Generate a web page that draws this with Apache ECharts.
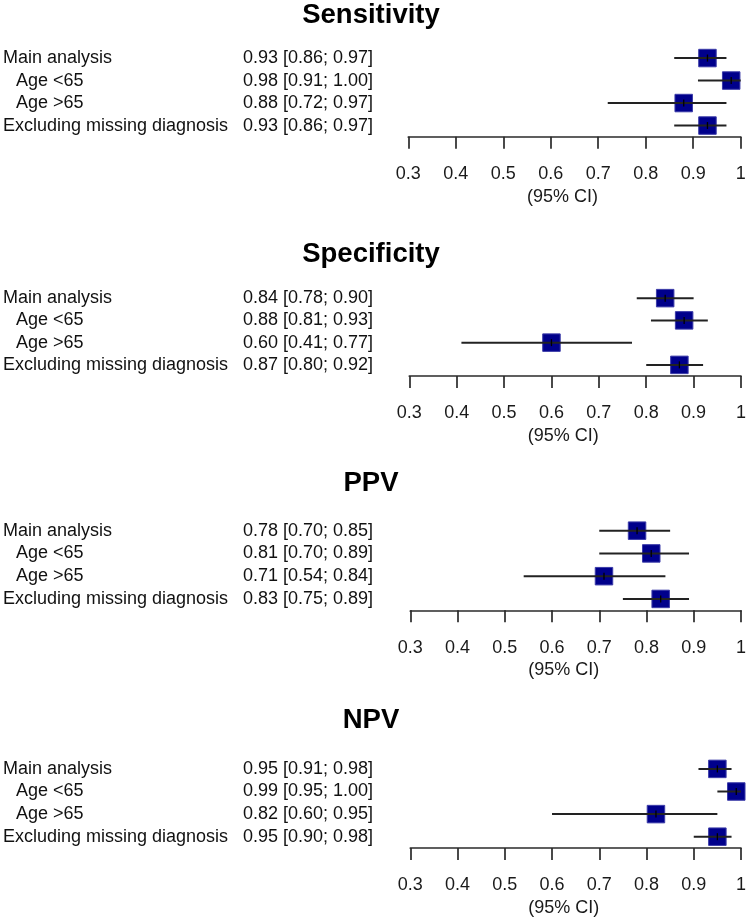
<!DOCTYPE html>
<html>
<head>
<meta charset="utf-8">
<script src="https://cdn.jsdelivr.net/npm/echarts@6/dist/echarts.min.js"></script>
<style>
html,body{margin:0;padding:0;background:#fff;}
#chart{width:749px;height:918px;}
</style>
</head>
<body>
<div id="chart"></div>
<script>
// ---- data ----
const panelTitles = ['Sensitivity', 'Specificity', 'PPV', 'NPV'];
const categories = ['Main analysis', 'Age <65', 'Age >65', 'Excluding missing diagnosis'];
const isSubgroup = [false, true, true, false];
const xTickValues = [0.3, 0.4, 0.5, 0.6, 0.7, 0.8, 0.9, 1];
const xAxisLabel = '(95% CI)';

const sensEst = [0.93, 0.98, 0.88, 0.93];
const sensLo  = [0.86, 0.91, 0.72, 0.86];
const sensHi  = [0.97, 1.00, 0.97, 0.97];

const specEst = [0.84, 0.88, 0.60, 0.87];
const specLo  = [0.78, 0.81, 0.41, 0.80];
const specHi  = [0.90, 0.93, 0.77, 0.92];

const ppvEst = [0.78, 0.81, 0.71, 0.83];
const ppvLo  = [0.70, 0.70, 0.54, 0.75];
const ppvHi  = [0.85, 0.89, 0.84, 0.89];

const npvEst = [0.95, 0.99, 0.82, 0.95];
const npvLo  = [0.91, 0.95, 0.60, 0.90];
const npvHi  = [0.98, 1.00, 0.95, 0.98];

const panelData = [
  [sensEst, sensLo, sensHi],
  [specEst, specLo, specHi],
  [ppvEst, ppvLo, ppvHi],
  [npvEst, npvLo, npvHi]
];

// ---- layout ----
const FONT = '"Liberation Sans", Arial, sans-serif';
const gridLayout = [
  {left: 408.3, right: 749 - 740.7, top: 46.8, height: 90},
  {left: 409.3, right: 749 - 741.0, top: 287.0, height: 89},
  {left: 410.3, right: 749 - 742.7, top: 519.3, height: 91},
  {left: 410.3, right: 749 - 741.7, top: 757.6, height: 91}
];
const titleCenterY = [15, 254, 483.5, 720];
const titleCenterX = 371;

const chart = echarts.init(document.getElementById('chart'), null, {renderer: 'canvas'});

const fmt = v => v.toFixed(2);

const grids = [], xAxes = [], yAxes = [], series = [], titles = [];
panelData.forEach((pd, p) => {
  const [est, lo, hi] = pd;
  const g = gridLayout[p];
  grids.push({left: g.left, right: g.right, top: g.top, height: g.height, containLabel: false});
  titles.push({
    text: panelTitles[p],
    left: titleCenterX, top: titleCenterY[p],
    textAlign: 'center', textVerticalAlign: 'middle', padding: 0,
    textStyle: {fontFamily: FONT, fontSize: 27.5, fontWeight: 'bold', color: '#000'}
  });
  xAxes.push({
    type: 'value', gridIndex: p, min: 0.3, max: 1, interval: 0.1,
    position: 'bottom',
    axisLine: {show: true, onZero: false, lineStyle: {color: '#2a2a2a', width: 1.7}},
    axisTick: {show: true, length: 12, inside: false, lineStyle: {color: '#2a2a2a', width: 1.7}},
    axisLabel: {
      margin: 28.5, fontFamily: FONT, fontSize: 18, color: '#1a1a1a',
      formatter: v => {
        const m = xTickValues.find(t => Math.abs(t - v) < 1e-9);
        return m === undefined ? '' : String(m);
      },
      showMinLabel: true, showMaxLabel: true
    },
    splitLine: {show: false},
    name: xAxisLabel, nameLocation: 'middle', nameGap: 60,
    nameMoveOverlap: false,
    nameTextStyle: {fontFamily: FONT, fontSize: 18, color: '#1a1a1a', padding: [0, 24, 0, 0], verticalAlign: 'middle'}
  });
  const valTexts = est.map((e, i) => fmt(e) + ' [' + fmt(lo[i]) + '; ' + fmt(hi[i]) + ']');
  yAxes.push({
    type: 'category', gridIndex: p, data: categories, inverse: true,
    axisLine: {show: false}, axisTick: {show: false}, splitLine: {show: false},
    axisLabel: {
      align: 'left', margin: g.left - 3, interval: 0,
      formatter: (value, idx) => {
        if (isSubgroup[idx]) return '{ind|}{sub|' + value + '}{val|' + valTexts[idx] + '}';
        return '{main|' + value + '}{val|' + valTexts[idx] + '}';
      },
      rich: {
        ind: {width: 13, fontFamily: FONT, fontSize: 18},
        main: {width: 240, align: 'left', fontFamily: FONT, fontSize: 18, color: '#111'},
        sub: {width: 227, align: 'left', fontFamily: FONT, fontSize: 18, color: '#111'},
        val: {align: 'left', fontFamily: FONT, fontSize: 18, color: '#111'}
      }
    }
  });
  series.push({
    type: 'custom', xAxisIndex: p, yAxisIndex: p,
    data: est.map((e, i) => [e, lo[i], hi[i], i]),
    encode: {x: [0, 1, 2], y: 3},
    renderItem: (params, api) => {
      const row = api.value(3);
      const c = api.coord([api.value(0), row]);
      const l = api.coord([api.value(1), row]);
      const h = api.coord([api.value(2), row]);
      const s = 17.5;
      return {
        type: 'group',
        children: [
          {type: 'rect', shape: {x: c[0] - s / 2, y: c[1] - s / 2, width: s, height: s},
           style: {fill: '#00008B', stroke: '#3b3ba8', lineWidth: 1}},
          {type: 'line', shape: {x1: l[0], y1: l[1], x2: h[0], y2: h[1]},
           style: {stroke: '#222', lineWidth: 2}},
          {type: 'line', shape: {x1: c[0], y1: c[1] - 3.5, x2: c[0], y2: c[1] + 3.5},
           style: {stroke: '#000', lineWidth: 1.3}}
        ]
      };
    }
  });
});

chart.setOption({
  backgroundColor: '#fff',
  animation: false,
  title: titles,
  grid: grids,
  xAxis: xAxes,
  yAxis: yAxes,
  series: series
});
</script>
</body>
</html>
